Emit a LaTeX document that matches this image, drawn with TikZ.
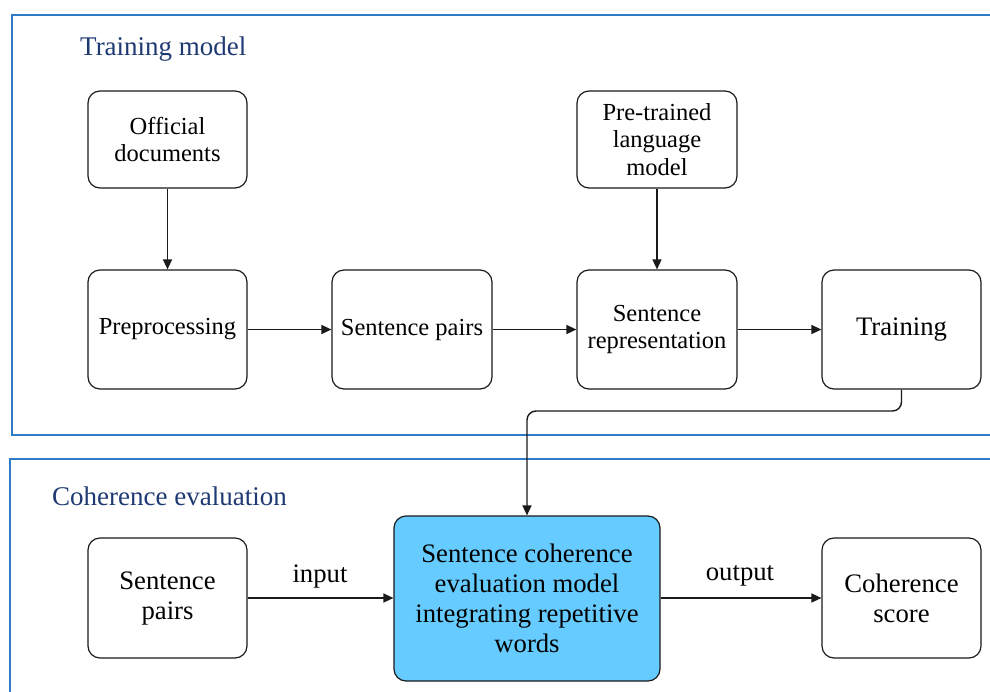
\documentclass[tikz,border=0pt]{standalone}
\usepackage{fontspec}
\setmainfont{Liberation Serif}
\usetikzlibrary{arrows.meta}
\definecolor{frameblue}{HTML}{2E7BC6}
\definecolor{titleblue}{HTML}{1F3A73}
\definecolor{boxfill}{HTML}{66CCFF}
\definecolor{boxline}{HTML}{1A1A1A}
\tikzset{
  box/.style={draw=boxline, line width=1.2pt, rounded corners=12pt, fill=white,
    align=center, inner sep=2pt},
  fsmall/.style={font=\fontsize{24.5}{27.5}\selectfont},
  fbig/.style={font=\fontsize{26.7}{30}\selectfont},
  frame/.style={draw=frameblue, line width=1.8pt},
  title/.style={text=titleblue, font=\fontsize{27}{30}\selectfont, anchor=west, inner sep=0pt},
  arr/.style={draw=boxline, line width=1.4pt, -{Triangle[length=10pt,width=9pt]}},
  lbl/.style={font=\fontsize{26.7}{30}\selectfont, inner sep=0pt}
}
\begin{document}
\begin{tikzpicture}[x=1pt,y=-1pt]
\useasboundingbox (0,0) rectangle (990,691);
\clip (0,0) rectangle (990,691);
\fill[white] (0,0) rectangle (990,691);
% frames
\draw[frame] (12,15) rectangle (1010,435);
\draw[frame] (10,459) rectangle (1010,720);
% titles
\node[title] (t1) at (80,49) {Training model};
\node[title] (t2) at (52,496) {Coherence evaluation};
% top boxes
\node[box,fsmall,minimum width=159pt,minimum height=97pt] (off) at (167.5,139.5) {Official\\documents};
\node[box,fsmall,minimum width=159pt,minimum height=119pt] (pre) at (167.5,329.5) {Preprocessing};
\node[box,fsmall,minimum width=160pt,minimum height=119pt] (sp1) at (412,329.5) {Sentence pairs};
\node[box,fsmall,minimum width=160pt,minimum height=97pt] (plm) at (657,139.5) {Pre-trained\\language\\model};
\node[box,fsmall,minimum width=160pt,minimum height=119pt] (srep) at (657,329.5) {Sentence\\representation};
\node[box,fbig,minimum width=159pt,minimum height=119pt] (train) at (901.5,329.5) {Training};
% bottom boxes
\node[box,fbig,minimum width=159pt,minimum height=120pt] (sp2) at (167.5,598) {Sentence\\pairs};
\node[box,fbig,fill=boxfill,minimum width=266pt,minimum height=165pt] (cem) at (527,598.5) {Sentence coherence\\evaluation model\\integrating repetitive\\words};
\node[box,fbig,minimum width=159pt,minimum height=120pt] (cs) at (901.5,598) {Coherence\\score};
% connectors
\draw[arr] (off) -- (pre);
\draw[arr] (pre) -- (sp1);
\draw[arr] (sp1) -- (srep);
\draw[arr] (plm) -- (srep);
\draw[arr] (srep) -- (train);
\coordinate (bend) at (527,411);
\draw[arr,rounded corners=9pt] (train.south) |- (bend) -- (cem.north);
\draw[arr] (sp2.east) -- (sp2.east -| cem.west);
\draw[arr] (cem.east |- cs.west) -- (cs.west);
\node[lbl] (in) at (320,576) {input};
\node[lbl] (out) at (740,576) {output};
\end{tikzpicture}
\end{document}
